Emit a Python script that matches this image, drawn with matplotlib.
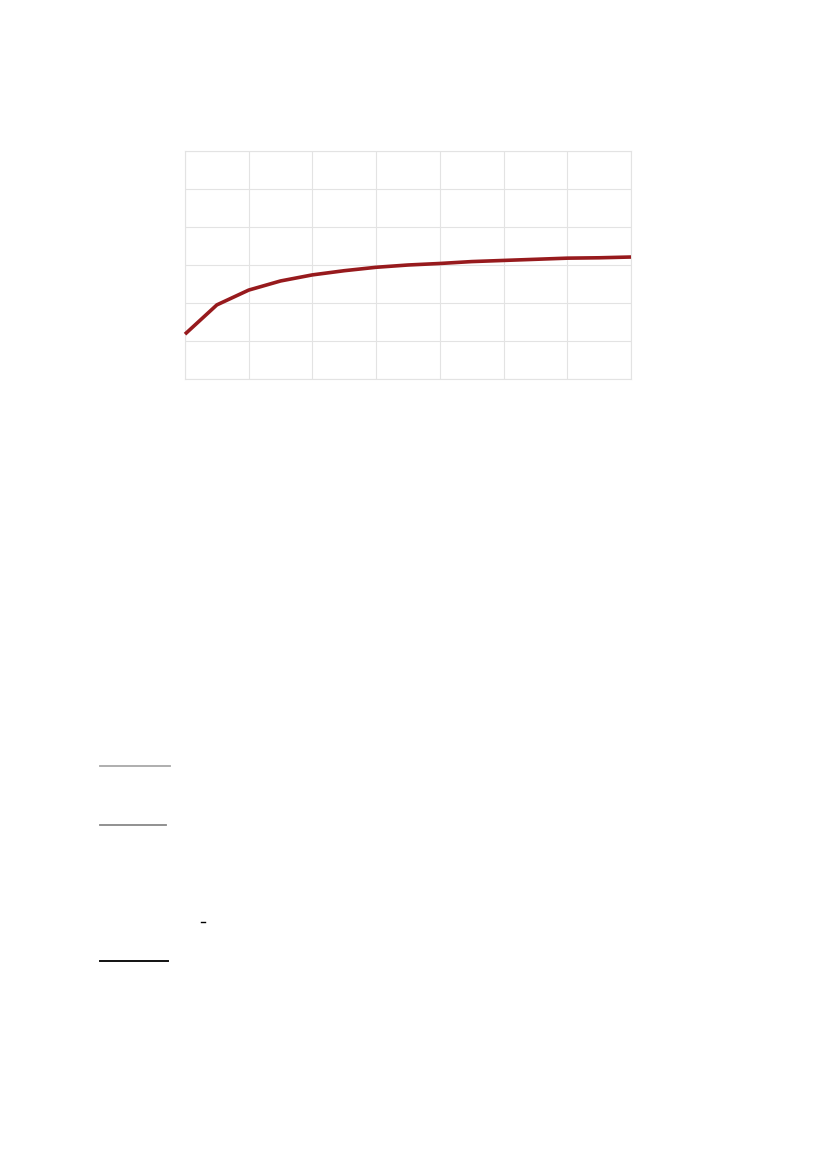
import matplotlib
matplotlib.use('Agg')
import matplotlib.pyplot as plt
from matplotlib.lines import Line2D

# data (15 points, no tick labels on the original)
x_vals = list(range(15))
y_vals = [1.18, 1.95, 2.34, 2.58, 2.74, 2.85, 2.94, 3.0, 3.04, 3.09, 3.12, 3.15, 3.18, 3.19, 3.21]

# short rules further down the page (pixel coords: x0, x1, y, colour, width)
page_rules = [
    (100, 170, 765.5, '#a8a8a8', 1.3),
    (100, 166, 824.5, '#888888', 1.3),
    (201, 205, 921.5, '#000000', 1.0),
    (100, 168, 960.5, '#111111', 1.4),
]

W, H = 827, 1169
fig = plt.figure(figsize=(W / 100, H / 100), dpi=100)
fig.patch.set_facecolor('white')

# main chart
ax = fig.add_axes([185 / W, 1 - 379 / H, 446 / W, 228 / H])
ax.plot(x_vals, y_vals, color='#971a1d', linewidth=2.6, solid_capstyle='butt', zorder=3, clip_on=False)
ax.set_xlim(0, 14)
ax.set_ylim(0, 6)
ax.set_xticks(range(0, 15, 2))
ax.set_yticks(range(0, 7))
ax.grid(True, color='#e3e3e3', linewidth=0.8)
ax.tick_params(length=0, labelbottom=False, labelleft=False)
for s in ax.spines.values():
    s.set_color('#e3e3e3')
    s.set_linewidth(0.8)

# overlay in pixel coordinates for the page rules
over = fig.add_axes([0, 0, 1, 1])
over.set_xlim(0, W)
over.set_ylim(H, 0)
over.axis('off')
over.patch.set_alpha(0)
for x0, x1, y, c, lw in page_rules:
    over.add_line(Line2D([x0, x1], [y, y], color=c, linewidth=lw))

fig.savefig('out.png', dpi=100)
